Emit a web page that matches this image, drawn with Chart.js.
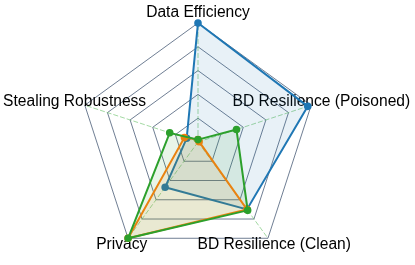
<!DOCTYPE html>
<html>
<head>
<meta charset="utf-8">
<script src="https://cdn.jsdelivr.net/npm/chart.js@4"></script>
<style>
  html, body { margin: 0; padding: 0; background: #fff; }
  #wrap { width: 415px; height: 265px; }
</style>
</head>
<body>
<div id="wrap"><canvas id="radar" width="415" height="265"></canvas></div>
<script>
// axes, clockwise from the top
const categories = ['Data Efficiency', 'BD Resilience (Poisoned)', 'BD Resilience (Clean)', 'Privacy', 'Stealing Robustness'];

// series values (0..1)
const blueValues = [1.0, 0.97, 0.70, 0.47, 0.10];
const orangeValues = [0.02, 0.01, 0.70, 1.0, 0.12];
const greenValues = [0.02, 0.34, 0.71, 1.0, 0.25];

const scaleTicks = [0, 0.2, 0.4, 0.6, 0.8, 1.0];

//draws the axis names under the datasets, like the original
const axisLabels = {
    id: 'axisLabels',
    beforeDatasetsDraw(chart) {
        const scale = chart.scales.r;
        const ctx = chart.ctx;
        ctx.save();
        ctx.font = '15.6px "Liberation Sans", Arial, sans-serif';
        ctx.fillStyle = '#000';
        ctx.textAlign = 'center';
        ctx.textBaseline = 'middle';
        categories.forEach((name, i) => {
            const p = scale.getPointPosition(i, scale.drawingArea * 1.09);
            const shift = p.y > scale.yCenter ? -2.5 : 0; // lower labels sit a bit higher
            ctx.fillText(name, p.x, p.y + shift);
        });
        ctx.restore();
    }
};

const makeSet = (values, color, fillColor, order) => ({
    data: values,
    borderColor: color,
    backgroundColor: fillColor,
    pointBackgroundColor: color,
    pointBorderColor: color,
    pointRadius: 2.8,
    borderWidth: 2,
    fill: true,
    order: order
});

const ctx = document.getElementById('radar');
const chart = new Chart(ctx, {
    type: 'radar',
    data: {
        labels: categories,
        datasets: [
            makeSet(blueValues, '#1f77b4', 'rgba(31,119,180,0.1)', 2),
            makeSet(orangeValues, '#ff7f0e', 'rgba(255,127,14,0.1)', 1),
            makeSet(greenValues, '#2ca02c', 'rgba(44,160,44,0.1)', 0)
        ]
    },
    options: {
        responsive: false,
        animation: false,
        layout: { padding: { top: 23, bottom: 4, left: 0, right: 19 } },
        plugins: { legend: { display: false }, tooltip: { enabled: false } },
        elements: { line: { tension: 0 } },
        scales: {
            r: {
                min: scaleTicks[0],
                max: scaleTicks[scaleTicks.length - 1],
                ticks: { display: false, stepSize: 0.2 },
                pointLabels: { display: false },
                grid: { color: 'rgba(55,75,105,0.9)', lineWidth: 0.8 },
                angleLines: { color: 'rgba(110,195,110,0.8)', lineWidth: 0.8, borderDash: [5, 2] }
            }
        }
    },
    plugins: [axisLabels]
});
</script>
</body>
</html>
